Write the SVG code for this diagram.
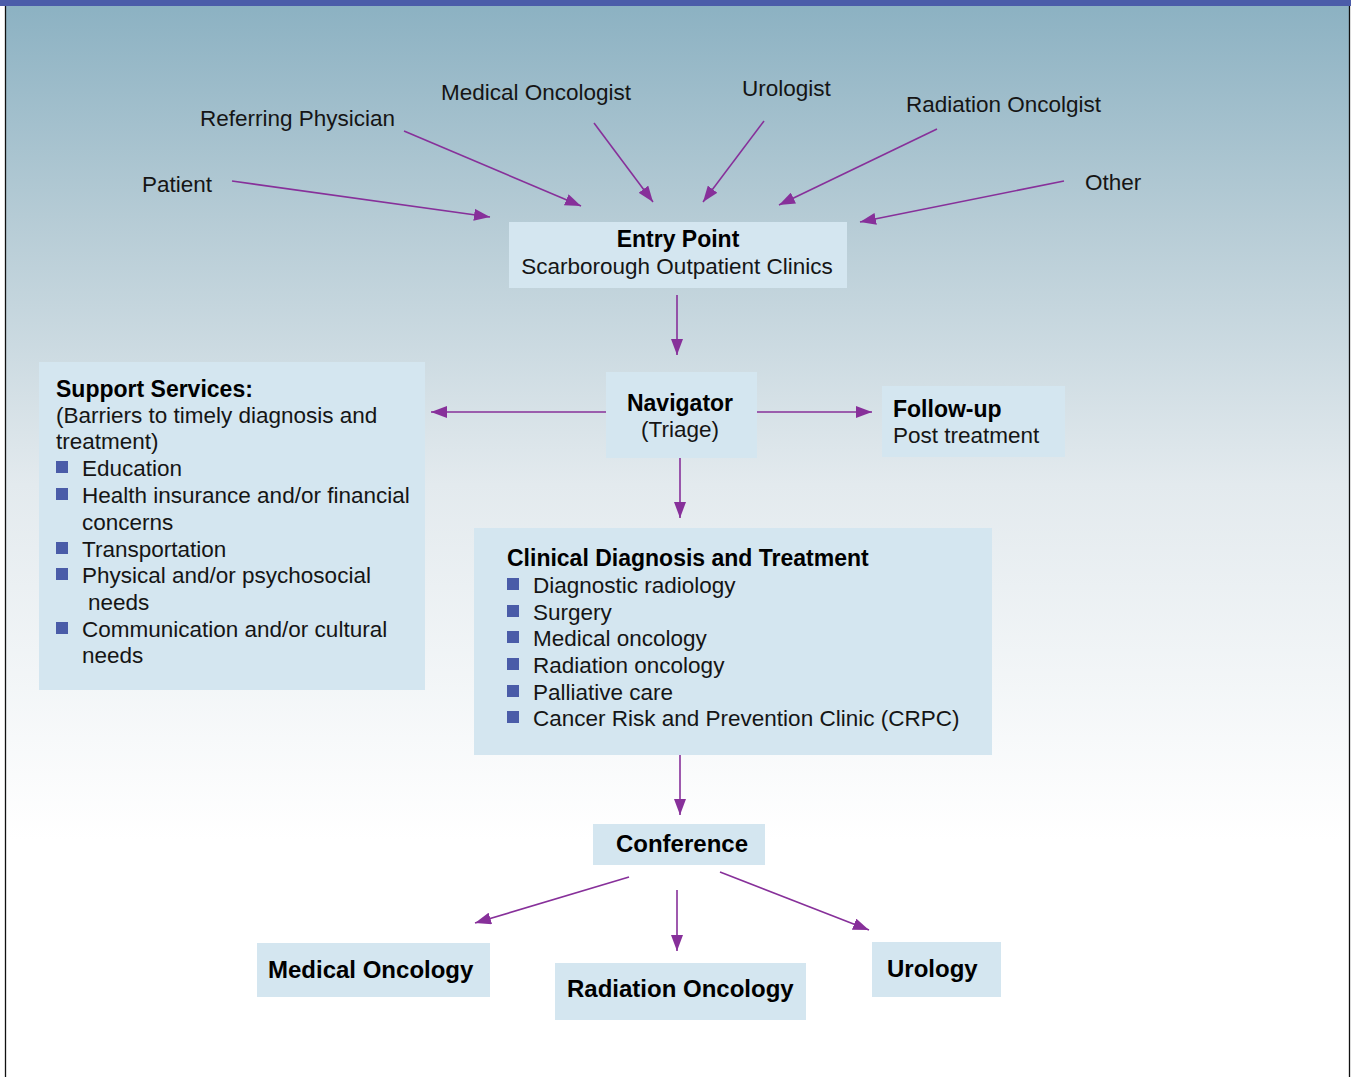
<svg xmlns="http://www.w3.org/2000/svg" width="1353" height="1077" viewBox="0 0 1353 1077">
<defs>
<linearGradient id="bg" x1="0" y1="0" x2="0" y2="1077" gradientUnits="userSpaceOnUse">
<stop offset="0" stop-color="#8bb1c2"/>
<stop offset="0.2" stop-color="#b5cbd5"/>
<stop offset="0.45" stop-color="#e3eaee"/>
<stop offset="0.78" stop-color="#ffffff"/>
<stop offset="1" stop-color="#ffffff"/>
</linearGradient>
<marker id="ah" viewBox="0 0 16 12" refX="16" refY="6" markerWidth="16" markerHeight="12" markerUnits="userSpaceOnUse" orient="auto">
<path d="M0,0 L16,6 L0,12 z" fill="#87309a"/>
</marker>
</defs>
<style>
.t{font-family:"Liberation Sans",Arial,sans-serif;font-size:22.5px;fill:#151515}
.b{font-family:"Liberation Sans",Arial,sans-serif;font-size:23px;font-weight:bold;fill:#000}
.bb{font-family:"Liberation Sans",Arial,sans-serif;font-size:24px;font-weight:bold;fill:#000}
.box{fill:#d4e6f0}
.bul{fill:#4a5ca8}
.c line{stroke:#87309a;stroke-width:1.6;marker-end:url(#ah)}
</style>
<rect x="0" y="0" width="1353" height="1077" fill="#ffffff"/>
<rect x="5" y="0" width="1345" height="1077" fill="url(#bg)"/>
<rect x="0" y="0" width="1351" height="6" fill="#4b5ca9"/>
<line x1="5.5" y1="6" x2="5.5" y2="1077" stroke="#111" stroke-width="1.3"/>
<line x1="1349.5" y1="6" x2="1349.5" y2="1077" stroke="#111" stroke-width="1.3"/>

<g id="sources">
<text class="t" x="142" y="192">Patient</text>
<text class="t" x="200" y="126">Referring Physician</text>
<text class="t" x="441" y="100">Medical Oncologist</text>
<text class="t" x="742" y="96">Urologist</text>
<text class="t" x="906" y="112">Radiation Oncolgist</text>
<text class="t" x="1085" y="190">Other</text>
</g>

<g class="c" id="connectors">
<line x1="232" y1="181" x2="490" y2="217"/>
<line x1="404" y1="131" x2="581" y2="206"/>
<line x1="594" y1="123" x2="653" y2="202"/>
<line x1="764" y1="121" x2="703" y2="202"/>
<line x1="937" y1="129" x2="779" y2="205"/>
<line x1="1064" y1="181" x2="860" y2="222"/>
<line x1="677" y1="295" x2="677" y2="355"/>
<line x1="606" y1="412" x2="431" y2="412"/>
<line x1="757" y1="412" x2="872" y2="412"/>
<line x1="680" y1="458" x2="680" y2="518"/>
<line x1="680" y1="755" x2="680" y2="815"/>
<line x1="629" y1="877" x2="475" y2="923"/>
<line x1="677" y1="890" x2="677" y2="951"/>
<line x1="720" y1="872" x2="869" y2="930"/>
</g>

<g id="entry">
<rect class="box" x="509" y="222" width="338" height="66"/>
<text class="b" x="678" y="247" text-anchor="middle">Entry Point</text>
<text class="t" x="677" y="274" text-anchor="middle">Scarborough Outpatient Clinics</text>
</g>

<g id="navigator">
<rect class="box" x="606" y="372" width="151" height="86"/>
<text class="b" x="680" y="411" text-anchor="middle">Navigator</text>
<text class="t" x="680" y="437" text-anchor="middle">(Triage)</text>
</g>

<g id="followup">
<rect class="box" x="882" y="386" width="183" height="71"/>
<text class="b" x="893" y="417">Follow-up</text>
<text class="t" x="893" y="443">Post treatment</text>
</g>

<g id="support">
<rect class="box" x="39" y="362" width="386" height="328"/>
<text class="b" x="56" y="397">Support Services:</text>
<text class="t" x="56" y="423">(Barriers to timely diagnosis and</text>
<text class="t" x="56" y="449">treatment)</text>
<rect class="bul" x="56" y="461" width="12" height="12"/>
<text class="t" x="82" y="476">Education</text>
<rect class="bul" x="56" y="488" width="12" height="12"/>
<text class="t" x="82" y="503">Health insurance and/or financial</text>
<text class="t" x="82" y="530">concerns</text>
<rect class="bul" x="56" y="542" width="12" height="12"/>
<text class="t" x="82" y="557">Transportation</text>
<rect class="bul" x="56" y="568" width="12" height="12"/>
<text class="t" x="82" y="583">Physical and/or psychosocial</text>
<text class="t" x="88" y="610">needs</text>
<rect class="bul" x="56" y="622" width="12" height="12"/>
<text class="t" x="82" y="637">Communication and/or cultural</text>
<text class="t" x="82" y="663">needs</text>
</g>

<g id="clinical">
<rect class="box" x="474" y="528" width="518" height="227"/>
<text class="b" x="507" y="566">Clinical Diagnosis and Treatment</text>
<rect class="bul" x="507" y="578" width="12" height="12"/>
<text class="t" x="533" y="593">Diagnostic radiology</text>
<rect class="bul" x="507" y="605" width="12" height="12"/>
<text class="t" x="533" y="620">Surgery</text>
<rect class="bul" x="507" y="631" width="12" height="12"/>
<text class="t" x="533" y="646">Medical oncology</text>
<rect class="bul" x="507" y="658" width="12" height="12"/>
<text class="t" x="533" y="673">Radiation oncology</text>
<rect class="bul" x="507" y="685" width="12" height="12"/>
<text class="t" x="533" y="700">Palliative care</text>
<rect class="bul" x="507" y="711" width="12" height="12"/>
<text class="t" x="533" y="726">Cancer Risk and Prevention Clinic (CRPC)</text>
</g>

<g id="conference">
<rect class="box" x="593" y="824" width="172" height="41"/>
<text class="bb" x="682" y="852" text-anchor="middle">Conference</text>
</g>

<g id="medonc">
<rect class="box" x="257" y="943" width="233" height="54"/>
<text class="bb" x="268" y="978">Medical Oncology</text>
</g>

<g id="radonc">
<rect class="box" x="555" y="963" width="251" height="57"/>
<text class="bb" x="567" y="997">Radiation Oncology</text>
</g>

<g id="urology">
<rect class="box" x="872" y="942" width="129" height="55"/>
<text class="bb" x="887" y="977">Urology</text>
</g>
</svg>
